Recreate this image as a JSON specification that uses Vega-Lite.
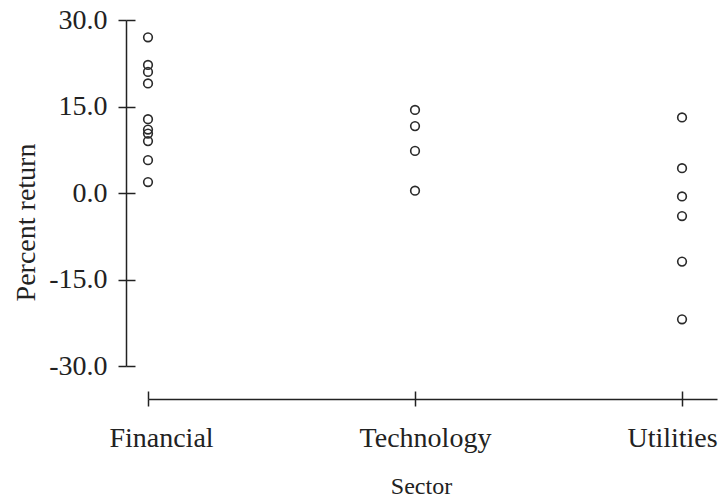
{
  "$schema": "https://vega.github.io/schema/vega-lite/v6.json",
  "autosize": {"type": "none"},
  "width": 569,
  "height": 346,
  "padding": {"left": 148, "top": 20, "right": 5, "bottom": 132},
  "background": "white",
  "config": {
    "view": {"stroke": null},
    "font": "Liberation Serif",
    "locale": {"number": {"decimal": ".", "thousands": ",", "grouping": [3], "currency": ["$", ""], "minus": "-"}},
    "axis": {
      "grid": false,
      "domainColor": "#222",
      "tickColor": "#222",
      "domainWidth": 1.5,
      "tickWidth": 1.5,
      "labelFont": "Liberation Serif",
      "titleFont": "Liberation Serif",
      "labelColor": "#222",
      "titleColor": "#222",
      "labelFontSize": 28,
      "titleFontSize": 28,
      "titleFontWeight": "normal"
    }
  },
  "data": {
    "values": [
      {"sector": "Financial", "ret": 27.0},
      {"sector": "Financial", "ret": 22.2},
      {"sector": "Financial", "ret": 21.0},
      {"sector": "Financial", "ret": 19.0},
      {"sector": "Financial", "ret": 12.8},
      {"sector": "Financial", "ret": 11.0},
      {"sector": "Financial", "ret": 10.3},
      {"sector": "Financial", "ret": 9.0},
      {"sector": "Financial", "ret": 5.7},
      {"sector": "Financial", "ret": 1.9},
      {"sector": "Technology", "ret": 14.4},
      {"sector": "Technology", "ret": 11.6},
      {"sector": "Technology", "ret": 7.3},
      {"sector": "Technology", "ret": 0.4},
      {"sector": "Utilities", "ret": 13.1},
      {"sector": "Utilities", "ret": 4.3},
      {"sector": "Utilities", "ret": -0.6},
      {"sector": "Utilities", "ret": -4.0},
      {"sector": "Utilities", "ret": -11.9},
      {"sector": "Utilities", "ret": -21.9}
    ]
  },
  "resolve": {"axis": {"x": "independent", "y": "independent"}},
  "layer": [
    {
      "mark": {"type": "point", "shape": "circle", "filled": false, "size": 75, "strokeWidth": 1.6, "color": "#2a2a2a", "opacity": 1},
      "encoding": {
        "x": {
          "field": "sector", "type": "nominal",
          "scale": {"type": "point", "domain": ["Financial", "Technology", "Utilities"], "padding": 0.0655, "align": 0},
          "axis": {"orient": "bottom", "offset": 33, "tickSize": 7, "labelAngle": 0, "labelPadding": 18,
                   "labelOffset": {"expr": "datum.value === 'Utilities' ? -10 : (datum.value === 'Financial' ? 13 : 10)"},
                   "title": "Sector", "titleFontSize": 24, "titlePadding": 22, "titleX": 273}
        },
        "y": {
          "field": "ret", "type": "quantitative",
          "scale": {"domain": [-30, 30], "nice": false, "zero": false},
          "axis": {"orient": "left", "offset": 22, "tickSize": 8, "values": [-30, -15, 0, 15, 30], "format": ".1f", "labelPadding": 11, "title": "Percent return", "titlePadding": 8, "titleY": 202}
        }
      }
    },
    {
      "mark": {"type": "point", "shape": "circle", "filled": false, "size": 75, "opacity": 0},
      "encoding": {
        "x": {
          "field": "sector", "type": "nominal",
          "axis": {"orient": "top", "offset": -379, "tickSize": 8, "labels": false, "domain": false, "title": null}
        },
        "y": {
          "field": "ret", "type": "quantitative",
          "axis": {"orient": "right", "offset": -591, "tickSize": 9, "values": [-30, -15, 0, 15, 30], "labels": false, "domain": false, "title": null}
        }
      }
    }
  ]
}
